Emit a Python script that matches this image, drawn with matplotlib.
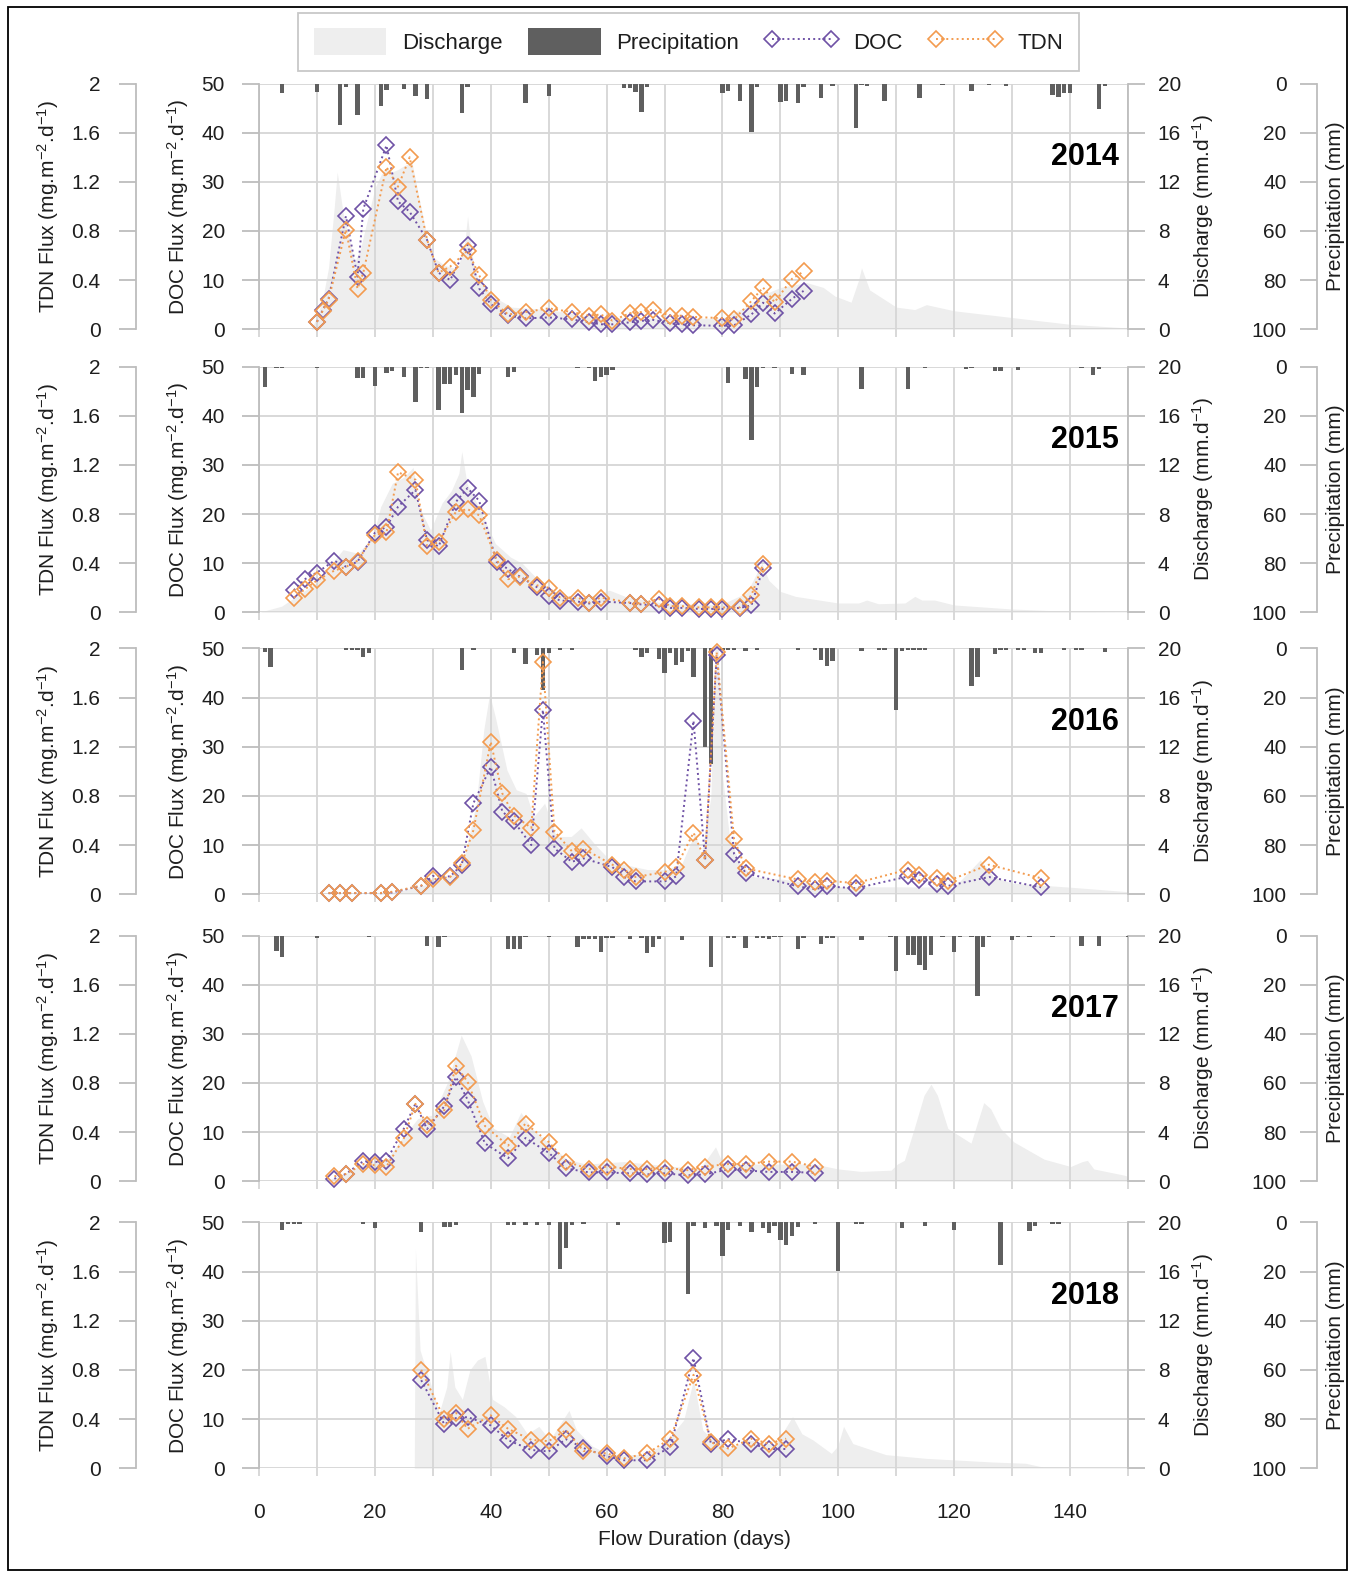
import matplotlib
matplotlib.use('Agg')
import matplotlib.pyplot as plt
from matplotlib.patches import Patch, Rectangle
from matplotlib.lines import Line2D
from matplotlib.ticker import FuncFormatter

plt.rcParams['font.family'] = ['Liberation Sans', 'DejaVu Sans']
plt.rcParams['mathtext.fontset'] = 'custom'
plt.rcParams['mathtext.rm'] = 'Liberation Sans'
plt.rcParams['mathtext.it'] = 'Liberation Sans:italic'
plt.rcParams['mathtext.bf'] = 'Liberation Sans:bold'

# ---------------- data ----------------
YEARS = ['2014', '2015', '2016', '2017', '2018']

# sampling days and fluxes (DOC in mg.m-2.d-1 on 0-50, TDN on 0-2)
day_2014 = [10, 11, 12, 15, 17, 18, 22, 24, 26, 29, 31, 33, 36, 38, 40, 43, 46, 50, 54, 57,
            59, 61, 64, 66, 68, 71, 73, 75, 80, 82, 85, 87, 89, 92, 94]
doc_2014 = [1.5, 3.9, 6.2, 23.0, 10.7, 24.5, 37.4, 26.0, 23.9, 18.2, 11.5, 10.0, 17.2, 8.3, 5.1,
            2.8, 2.2, 2.4, 2.0, 1.4, 1.0, 1.0, 1.4, 1.7, 1.9, 1.2, 1.0, 0.8, 0.7, 0.8, 3.0, 5.4,
            3.2, 6.2, 7.8]
tdn_2014 = [0.06, 0.15, 0.24, 0.81, 0.33, 0.46, 1.32, 1.16, 1.40, 0.73, 0.46, 0.51, 0.64, 0.44,
            0.24, 0.12, 0.14, 0.17, 0.14, 0.11, 0.12, 0.07, 0.13, 0.14, 0.16, 0.11, 0.11, 0.10,
            0.09, 0.08, 0.23, 0.34, 0.22, 0.41, 0.47]

day_2015 = [6, 8, 10, 13, 15, 17, 20, 22, 24, 27, 29, 31, 34, 36, 38, 41, 43, 45, 48, 50, 52,
            55, 57, 59, 64, 66, 69, 71, 73, 76, 78, 80, 83, 85, 87]
doc_2015 = [4.5, 6.8, 8.1, 10.5, 9.3, 10.3, 16.2, 17.4, 21.5, 24.9, 14.7, 13.4, 22.5, 25.3, 22.7,
            10.3, 8.8, 7.3, 5.1, 3.4, 2.4, 2.2, 1.8, 2.2, 1.9, 1.6, 1.4, 0.9, 0.9, 0.7, 0.7, 0.7,
            0.9, 1.4, 9.0]
tdn_2015 = [0.12, 0.19, 0.26, 0.34, 0.37, 0.42, 0.63, 0.65, 1.14, 1.08, 0.54, 0.57, 0.82, 0.84,
            0.79, 0.43, 0.27, 0.29, 0.22, 0.20, 0.12, 0.12, 0.08, 0.12, 0.08, 0.07, 0.11, 0.05,
            0.05, 0.04, 0.04, 0.04, 0.04, 0.14, 0.39]

day_2016 = [12, 14, 16, 21, 23, 28, 30, 33, 35, 37, 40, 42, 44, 47, 49, 51, 54, 56, 61, 63, 65,
            70, 72, 75, 77, 79, 82, 84, 93, 96, 98, 103, 112, 114, 117, 119, 126, 135]
doc_2016 = [0.2, 0.2, 0.2, 0.2, 0.35, 1.7, 3.7, 3.6, 6.0, 18.5, 25.9, 16.8, 14.8, 10.0, 37.5,
            9.3, 6.6, 7.3, 5.5, 3.5, 2.6, 2.6, 3.6, 35.3, 7.0, 48.6, 8.2, 4.3, 1.6, 1.0, 1.6,
            1.2, 3.6, 2.8, 2.1, 1.7, 3.5, 1.4]
tdn_2016 = [0.01, 0.01, 0.01, 0.01, 0.02, 0.07, 0.12, 0.14, 0.25, 0.52, 1.24, 0.82, 0.64, 0.54,
            1.89, 0.51, 0.35, 0.37, 0.24, 0.20, 0.14, 0.18, 0.22, 0.50, 0.28, 1.97, 0.45, 0.21,
            0.12, 0.10, 0.11, 0.09, 0.20, 0.16, 0.13, 0.11, 0.24, 0.13]

day_2017 = [13, 15, 18, 20, 22, 25, 27, 29, 32, 34, 36, 39, 43, 46, 50, 53, 57, 60, 64, 67, 70,
            74, 77, 81, 84, 88, 92, 96]
doc_2017 = [0.5, 1.5, 4.1, 3.9, 4.2, 10.7, 15.8, 10.6, 15.3, 21.2, 16.6, 7.7, 4.7, 8.8, 5.8,
            2.6, 1.8, 1.8, 1.6, 1.4, 1.6, 1.2, 1.4, 2.4, 2.2, 1.9, 1.9, 1.7]
tdn_2017 = [0.04, 0.06, 0.14, 0.13, 0.12, 0.35, 0.63, 0.46, 0.58, 0.94, 0.81, 0.45, 0.29, 0.47,
            0.32, 0.16, 0.10, 0.12, 0.10, 0.10, 0.11, 0.09, 0.12, 0.14, 0.14, 0.16, 0.16, 0.12]

day_2018 = [28, 32, 34, 36, 40, 43, 47, 50, 53, 56, 60, 63, 67, 71, 75, 78, 81, 85, 88, 91]
doc_2018 = [17.9, 8.9, 10.2, 10.4, 8.7, 5.7, 3.7, 3.4, 5.9, 4.1, 2.4, 1.6, 1.6, 4.3, 22.4, 5.0,
            5.9, 5.0, 3.9, 3.9]
tdn_2018 = [0.80, 0.40, 0.45, 0.32, 0.43, 0.32, 0.23, 0.22, 0.31, 0.14, 0.12, 0.08, 0.12, 0.24,
            0.76, 0.21, 0.16, 0.24, 0.20, 0.24]

# discharge (mm.d-1), read at the turning points of the grey area
q_day_2014 = [9, 10, 11, 12, 13, 13.5, 14.5, 15.5, 16.5, 17.5, 19, 20, 21, 22, 23, 24, 25, 26.4,
              27.5, 29, 30, 32, 34.3, 35.5, 36, 36.8, 37.6, 40.3, 43.6, 50, 55, 60, 70, 80, 84,
              87, 90, 94.5, 97.4, 99.4, 102.2, 103.5, 104, 105.4, 110, 113.2, 115.2, 120, 130,
              140, 150]
q_2014 = [0, 1.0, 2.5, 5.0, 10.0, 12.8, 9.5, 7.5, 5.5, 6.5, 9.5, 11.5, 12.5, 13.2, 12.8, 13.0,
          13.3, 13.6, 11.0, 7.5, 5.9, 5.2, 4.9, 7.0, 9.2, 6.0, 4.3, 2.7, 1.8, 1.6, 1.2, 0.95,
          0.9, 0.9, 1.8, 2.8, 3.4, 3.8, 3.4, 2.7, 2.2, 4.0, 5.0, 3.2, 1.8, 1.6, 2.0, 1.5, 0.95,
          0.4, 0.1]

q_day_2015 = [0, 3.9, 9.9, 14.5, 17.1, 19.7, 21, 23, 25, 26.6, 27.6, 29.6, 31.6, 33.2, 34.5, 35,
              35.9, 38.2, 40.8, 43.4, 45.4, 48.7, 52, 56.6, 60.5, 63.2, 69.7, 79.6, 84.2, 86.8,
              88, 90, 92.6, 100, 103.5, 104.9, 106.9, 111.5, 113.2, 114.4, 116.6, 120, 130,
              140, 150]
q_2015 = [0, 0.5, 2.4, 5.1, 4.8, 6.2, 8.6, 10.5, 11.0, 11.8, 8.6, 6.7, 8.9, 9.9, 11.3, 13.1,
          10.5, 8.3, 5.6, 4.5, 4.0, 2.4, 1.4, 1.2, 1.8, 1.3, 0.76, 0.6, 1.6, 4.0, 2.6, 1.7, 1.3,
          0.76, 0.76, 1.0, 0.7, 0.76, 1.3, 1.0, 1.0, 0.6, 0.27, 0.08, 0.05]

q_day_2016 = [20, 23.7, 27.6, 32.9, 35.5, 37.5, 38.8, 39.8, 40.8, 42.8, 44.4, 46.1, 47.4, 49.3,
              51.3, 53.9, 55.6, 57.9, 60.5, 63.2, 67.1, 70.4, 73, 75.3, 76.3, 78, 78.7, 79.3,
              79.9, 81.2, 82.9, 85.5, 90.8, 100, 110, 120, 124.5, 126.8, 130, 140, 150]
q_2016 = [0, 0.2, 0.6, 1.4, 3.1, 7.4, 13.4, 16.3, 14.4, 10.1, 8.5, 8.2, 6.3, 7.4, 4.7, 4.7, 5.4,
          4.1, 2.8, 2.4, 2.0, 2.0, 2.5, 5.0, 3.1, 7.9, 20, 20, 10.1, 4.7, 2.5, 1.4, 1.2, 0.6,
          0.6, 0.57, 2.8, 1.4, 0.9, 0.57, 0.2]

q_day_2017 = [11, 13.5, 18.1, 22.1, 24.7, 27.4, 30, 32.6, 34.9, 36.6, 38.6, 40.5, 43.2, 45.2,
              47.1, 49.8, 53.1, 56.4, 63, 69.5, 76.1, 78.8, 80.1, 89.3, 95.9, 100, 103.9, 109.1,
              110.2, 111.4, 113.1, 114.8, 116, 117.1, 118.9, 120.9, 122.9, 125.1, 126.3, 128,
              130.3, 135.5, 140.1, 142.1, 143, 144.1, 149.3, 150]
q_2017 = [0, 0.35, 1.4, 1.8, 3.5, 5.1, 5.4, 8.1, 11.9, 10.2, 6.5, 4.3, 3.6, 5.6, 4.3, 3.2, 1.8,
          1.4, 1.6, 1.3, 1.0, 2.8, 1.4, 1.4, 1.4, 1.0, 0.8, 0.9, 1.4, 1.7, 4.3, 7.0, 7.9, 7.0,
          4.3, 3.7, 3.1, 6.4, 5.9, 4.3, 3.2, 1.8, 1.2, 1.6, 1.7, 1.0, 0.5, 0.4]

q_day_2018 = [26.8, 27, 27.8, 29.8, 31.1, 32.4, 33, 33.8, 35.1, 36.4, 37.7, 39, 40.3, 42.3, 44.3,
              46.3, 48.3, 50.2, 53.5, 54.8, 57.5, 60.1, 62.8, 66.7, 70, 73.3, 75, 76.6, 78.6,
              81.2, 84.5, 89.1, 92.1, 93.7, 95.6, 98.8, 99.9, 100.9, 102.5, 108.2, 115.1,
              126.6, 132.3, 135.2, 150]
q_2018 = [0, 17.8, 9.6, 6.6, 4.5, 6.6, 9.5, 6.6, 5.6, 8.0, 8.8, 9.1, 5.6, 5.0, 4.2, 2.8, 3.4,
          2.3, 4.7, 3.1, 1.8, 1.2, 1.1, 1.1, 2.0, 3.9, 7.2, 3.1, 2.2, 1.6, 2.3, 1.9, 4.2, 2.8,
          2.3, 1.2, 1.8, 3.4, 2.0, 1.1, 0.8, 0.5, 0.4, 0.1, 0.05]

# daily precipitation (mm)
rain_day_2014 = [4, 10, 14, 15, 17, 21, 22, 25, 27, 29, 35, 36, 46, 50, 63, 64, 65, 66, 67, 80,
                 81, 83, 85, 86, 90, 91, 93, 94, 97, 99, 103, 104, 105, 108, 114, 118, 123,
                 126, 129, 137, 138, 139, 140, 145, 146]
rain_2014 = [3.8, 3.4, 16.9, 1.4, 12.8, 9.2, 2.7, 2.4, 5.1, 6.5, 11.9, 1.4, 8.1, 5.1, 2.0, 2.0,
             3.4, 11.5, 1.6, 3.8, 3.0, 7.0, 19.6, 1.4, 7.6, 7.0, 8.1, 1.4, 5.7, 1.2, 18.2, 0.8,
             1.0, 7.0, 5.7, 0.8, 3.0, 0.8, 1.0, 4.7, 5.4, 3.8, 4.0, 10.5, 1.0]

rain_day_2015 = [1, 3, 4, 10, 17, 18, 20, 22, 23, 25, 27, 28, 29, 31, 32, 33, 34, 35, 36, 37,
                 38, 43, 44, 55, 57, 58, 59, 60, 61, 81, 84, 85, 86, 87, 89, 92, 94, 104, 112,
                 115, 122, 123, 127, 128, 131, 142, 144, 145]
rain_2015 = [8.1, 0.5, 0.5, 0.5, 4.6, 4.6, 7.7, 2.7, 1.9, 4.1, 14.5, 0.5, 0.5, 17.8, 7.0, 7.0,
             3.6, 18.9, 9.7, 12.4, 3.0, 4.3, 2.3, 0.5, 0.5, 5.9, 4.3, 3.6, 1.2, 6.8, 5.0, 29.7,
             8.4, 0.5, 0.5, 3.0, 3.2, 9.1, 9.1, 0.5, 0.8, 0.5, 1.9, 1.9, 1.2, 0.5, 3.2, 1.0]

rain_day_2016 = [1, 2, 15, 16, 17, 18, 19, 35, 37, 44, 46, 48, 49, 50, 52, 54, 65, 66, 67, 69,
                 70, 71, 72, 73, 74, 75, 77, 78, 80, 81, 82, 84, 86, 93, 96, 97, 98, 99, 104,
                 107, 108, 110, 111, 112, 113, 114, 115, 123, 124, 127, 128, 129, 131, 132,
                 134, 135, 139, 141, 142, 146]
rain_2016 = [1.4, 7.7, 0.7, 0.7, 0.7, 3.4, 2.0, 8.8, 0.5, 1.8, 6.5, 2.7, 16.9, 2.0, 0.5, 0.5,
             0.7, 3.4, 2.0, 4.1, 9.9, 2.0, 6.8, 5.4, 1.0, 11.5, 40.0, 47.0, 0.7, 0.7, 0.7, 1.0,
             0.5, 0.5, 0.5, 4.7, 7.2, 5.0, 1.0, 0.5, 0.7, 25.0, 1.0, 0.8, 0.8, 0.8, 0.5, 15.3,
             11.5, 2.3, 0.7, 0.7, 0.7, 0.5, 1.8, 1.8, 0.5, 0.5, 0.5, 1.4]

rain_day_2017 = [3, 4, 10, 19, 29, 31, 32, 43, 44, 45, 46, 50, 55, 56, 57, 58, 59, 60, 61, 64,
                 66, 67, 68, 69, 73, 78, 81, 82, 84, 86, 87, 88, 89, 90, 93, 94, 97, 98, 99,
                 104, 109, 110, 112, 113, 114, 115, 116, 118, 120, 121, 123, 124, 125, 126,
                 130, 131, 133, 137, 142, 145, 150]
rain_2017 = [6.1, 8.8, 1.1, 0.5, 4.1, 4.7, 0.7, 5.4, 5.4, 5.4, 0.5, 0.5, 4.7, 1.5, 1.5, 1.5,
             6.5, 1.0, 1.0, 1.2, 0.8, 7.2, 4.7, 1.2, 1.8, 12.9, 1.0, 1.0, 5.0, 1.0, 1.0, 1.2,
             0.7, 0.7, 5.4, 1.0, 3.4, 1.0, 1.0, 2.0, 0.7, 14.6, 8.1, 8.1, 11.9, 14.2, 7.8,
             0.5, 6.8, 0.7, 0.7, 24.7, 4.7, 0.7, 2.0, 0.5, 0.5, 0.5, 4.3, 4.3, 0.7]

rain_day_2018 = [4, 5, 6, 7, 18, 20, 28, 32, 33, 34, 43, 44, 46, 48, 50, 52, 53, 54, 56, 62,
                 70, 71, 74, 75, 77, 79, 80, 81, 83, 85, 87, 88, 89, 90, 91, 92, 93, 96, 100,
                 103, 104, 111, 115, 120, 128, 133, 134, 137, 138]
rain_2018 = [3.0, 0.5, 0.5, 0.5, 0.5, 2.3, 3.7, 1.9, 1.9, 1.0, 1.2, 1.2, 1.2, 1.0, 1.0, 19.0,
             10.4, 1.0, 0.8, 1.0, 8.4, 8.1, 29.2, 1.6, 2.3, 1.4, 13.6, 3.0, 1.4, 3.7, 2.3, 4.1,
             1.6, 7.1, 9.1, 5.7, 1.8, 0.5, 19.7, 0.5, 0.5, 2.3, 1.4, 3.0, 17.4, 3.3, 1.6, 0.5,
             0.5]

sample_days = [day_2014, day_2015, day_2016, day_2017, day_2018]
doc_flux = [doc_2014, doc_2015, doc_2016, doc_2017, doc_2018]
tdn_flux = [tdn_2014, tdn_2015, tdn_2016, tdn_2017, tdn_2018]
q_days = [q_day_2014, q_day_2015, q_day_2016, q_day_2017, q_day_2018]
q_vals = [q_2014, q_2015, q_2016, q_2017, q_2018]
rain_days = [rain_day_2014, rain_day_2015, rain_day_2016, rain_day_2017, rain_day_2018]
rain_vals = [rain_2014, rain_2015, rain_2016, rain_2017, rain_2018]

# ---------------- style ----------------
DOC_COLOR = '#6f52a6'
TDN_COLOR = '#f39b4f'
Q_COLOR = '#eeeeee'
RAIN_COLOR = '#5f5f5f'
GRID = '#d6d6d6'
SPINE = '#bdbdbd'
TXT = '#1e1e1e'
FS = 15

fig = plt.figure(figsize=(13.59, 15.79), dpi=100)

# outer frame around the whole figure
fig.patches.append(Rectangle((0.0059, 0.0057), 0.9853, 0.9899, transform=fig.transFigure,
                             fill=False, edgecolor='black', linewidth=1.3))

LEFT = 0.1906
WIDTH = 0.6394
HEIGHT = 0.1556
BOTTOMS = [0.7915, 0.6122, 0.4337, 0.2519, 0.0702]

fmt_g = FuncFormatter(lambda v, pos: '%g' % v)


def only_visible(ax, keep):
    for name, sp in ax.spines.items():
        sp.set_visible(name == keep)
        sp.set_color(SPINE)
        sp.set_linewidth(1.3)


for i, year in enumerate(YEARS):
    axq = fig.add_axes([LEFT, BOTTOMS[i], WIDTH, HEIGHT])
    axp = axq.twinx()
    axd = axq.twinx()
    axt = axq.twinx()

    # discharge area (right inner axis)
    axq.fill_between(q_days[i], q_vals[i], 0, color=Q_COLOR, linewidth=0, zorder=1)
    axq.set_xlim(0, 150)
    axq.set_ylim(0, 20)
    axq.set_yticks(range(0, 21, 4))
    axq.set_xticks(range(0, 151, 10))
    axq.yaxis.tick_right()
    axq.grid(True, color=GRID, linewidth=1.3)
    only_visible(axq, 'right')
    axq.tick_params(axis='y', direction='out', length=12.5, width=1.3, color=SPINE,
                    labelsize=FS, labelcolor=TXT, pad=9)
    last = i == len(YEARS) - 1
    axq.tick_params(axis='x', direction='out', length=6, width=1.3, color=GRID,
                    labelsize=FS, labelcolor=TXT, pad=19, labelbottom=last)
    axq.xaxis.set_major_formatter(
        FuncFormatter(lambda v, pos: '%d' % v if v % 20 == 0 and v < 150 else ''))
    axq.text(1.0863, 0.5, 'Discharge (mm.d$^{-1}$)', transform=axq.transAxes, rotation=90,
             ha='center', va='center', fontsize=FS, color=TXT)

    # precipitation bars from the top (far right axis, inverted)
    axp.bar(rain_days[i], rain_vals[i], width=0.75, color=RAIN_COLOR, linewidth=0)
    axp.set_ylim(100, 0)
    axp.set_yticks(range(0, 101, 20))
    axp.yaxis.tick_left()
    axp.spines['left'].set_position(('axes', 1.2175))
    only_visible(axp, 'left')
    axp.tick_params(axis='y', direction='out', length=12.5, width=1.3, color=SPINE,
                    labelsize=FS, labelcolor=TXT, pad=9.5)
    axp.text(1.2394, 0.5, 'Precipitation (mm)', transform=axq.transAxes, rotation=90,
             ha='center', va='center', fontsize=FS, color=TXT)

    # DOC flux (left inner axis)
    axd.plot(sample_days[i], doc_flux[i], linestyle=':', linewidth=1.4, color=DOC_COLOR,
             marker='D', markersize=8, markerfacecolor='none', markeredgecolor=DOC_COLOR,
             markeredgewidth=1.2, clip_on=False)
    axd.set_ylim(0, 50)
    axd.set_yticks(range(0, 51, 10))
    axd.yaxis.tick_left()
    only_visible(axd, 'left')
    axd.tick_params(axis='y', direction='out', length=12, width=1.3, color=SPINE,
                    labelsize=FS, labelcolor=TXT, pad=12.5)
    axd.text(-0.0932, 0.5, 'DOC Flux (mg.m$^{-2}$.d$^{-1}$)', transform=axq.transAxes,
             rotation=90, ha='center', va='center', fontsize=FS, color=TXT)

    # TDN flux (left outer axis)
    axt.plot(sample_days[i], tdn_flux[i], linestyle=':', linewidth=1.4, color=TDN_COLOR,
             marker='D', markersize=8, markerfacecolor='none', markeredgecolor=TDN_COLOR,
             markeredgewidth=1.2, clip_on=False)
    axt.set_ylim(0, 2)
    axt.set_yticks([0, 0.4, 0.8, 1.2, 1.6, 2.0])
    axt.yaxis.set_major_formatter(fmt_g)
    axt.yaxis.tick_left()
    axt.spines['left'].set_position(('axes', -0.1415))
    only_visible(axt, 'left')
    axt.tick_params(axis='y', direction='out', length=12.5, width=1.3, color=SPINE,
                    labelsize=FS, labelcolor=TXT, pad=13)
    axt.text(-0.2428, 0.5, 'TDN Flux (mg.m$^{-2}$.d$^{-1}$)', transform=axq.transAxes,
             rotation=90, ha='center', va='center', fontsize=FS, color=TXT)

    # year tag
    axt.text(0.99, 0.70, year, transform=axq.transAxes, ha='right', va='center',
             fontsize=22, fontweight='bold', color='black')

fig.text(0.5107, 0.0253, 'Flow Duration (days)', ha='center', va='center', fontsize=FS,
         color=TXT)

# legend on top
handles = [
    Patch(facecolor=Q_COLOR, edgecolor='none'),
    Patch(facecolor=RAIN_COLOR, edgecolor='none'),
    Line2D([], [], linestyle=':', linewidth=1.4, color=DOC_COLOR, marker='D', markersize=8,
           markerfacecolor='none', markeredgewidth=1.2),
    Line2D([], [], linestyle=':', linewidth=1.4, color=TDN_COLOR, marker='D', markersize=8,
           markerfacecolor='none', markeredgewidth=1.2),
]
leg = fig.legend(handles, ['Discharge', 'Precipitation', 'DOC', 'TDN'], loc='center',
                 bbox_to_anchor=(0.5065, 0.9735), ncol=4, fontsize=16, numpoints=2,
                 handlelength=3.25, handleheight=1.5, handletextpad=0.72, columnspacing=1.17,
                 borderpad=0.7, fancybox=False, edgecolor='#c8c8c8', framealpha=1)
leg.get_frame().set_linewidth(1.3)
for t in leg.get_texts():
    t.set_color(TXT)

fig.savefig('out.png', dpi=100)
